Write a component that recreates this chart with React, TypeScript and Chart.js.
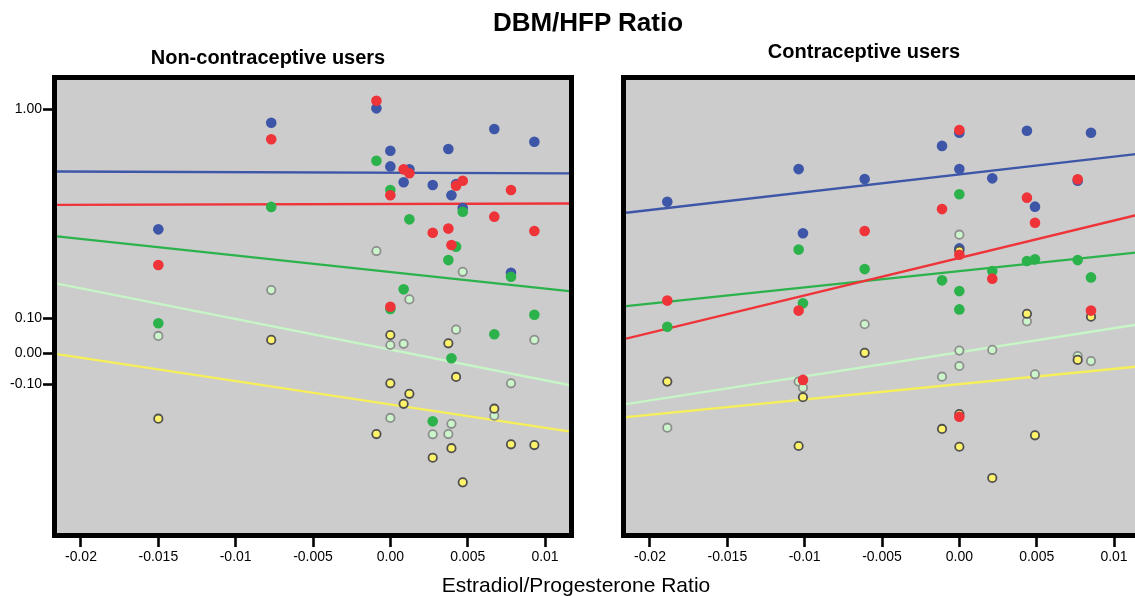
import React, { useEffect, useRef } from 'react';
import { Chart, registerables } from 'chart.js';

Chart.register(...registerables);

const FONT = "'Liberation Sans', Arial, sans-serif";

// X axis (Estradiol/Progesterone Ratio), shared by both panels
const X_MIN = -0.02155;
const X_MAX = 0.01155;
const X_TICKS = [-0.02, -0.015, -0.01, -0.005, 0, 0.005, 0.01];
const X_TICK_LABELS = ['-0.02', '-0.015', '-0.01', '-0.005', '0.00', '0.005', '0.01'];

// Y axis (DBM/HFP Ratio) - axis units, labelled ticks at uneven positions
const Y_MIN = -0.7365;
const Y_MAX = 1.1201;
const Y_TICK_POS = [-0.127, 0.0, 0.1434, 1.0];
const Y_TICK_LABELS = ['-0.10', '0.00', '0.10', '1.00'];

// Non-contraceptive users
const NC_X = [-0.0150, -0.0077, -0.0009, 0.0, 0.0, 0.00086, 0.00123, 0.00274, 0.00375, 0.00395, 0.00425, 0.00468, 0.00672, 0.0078, 0.00931];
const NC_BLUE = [0.508, 0.945, 1.004, 0.83, 0.766, 0.701, 0.754, 0.69, 0.837, 0.648, 0.694, 0.595, 0.919, 0.33, 0.867];
const NC_RED = [0.362, 0.877, 1.035, 0.648, 0.191, 0.754, 0.738, 0.494, 0.511, 0.444, 0.687, 0.707, 0.56, 0.669, 0.501];
const NC_GREEN = [0.123, 0.6, 0.789, 0.669, 0.182, 0.262, 0.549, -0.279, 0.382, -0.02, 0.437, 0.58, 0.078, 0.314, 0.158];
const NC_LIGHT = [0.071, 0.259, 0.419, 0.034, -0.265, 0.039, 0.221, -0.332, -0.331, -0.289, 0.097, 0.334, -0.256, -0.123, 0.055];
const NC_YELLOW = [-0.268, 0.055, -0.331, 0.075, -0.123, -0.207, -0.166, -0.428, 0.041, -0.389, -0.097, -0.529, -0.227, -0.373, -0.376];
// fit lines: value at X_MIN, value at X_MAX
const NC_FIT_BLUE = [0.745, 0.737];
const NC_FIT_RED = [0.608, 0.614];
const NC_FIT_GREEN = [0.479, 0.255];
const NC_FIT_LIGHT = [0.286, -0.13];
const NC_FIT_YELLOW = [-0.003, -0.32];

// Contraceptive users
const C_X = [-0.01888, -0.01039, -0.01011, -0.00612, -0.00112, 0.0, 0.0, 0.0, 0.00213, 0.00437, 0.00489, 0.00765, 0.00851];
const C_BLUE = [0.621, 0.755, 0.492, 0.714, 0.85, 0.904, 0.755, 0.43, 0.717, 0.912, 0.601, 0.707, 0.904];
const C_RED = [0.216, 0.175, -0.109, 0.501, 0.591, 0.915, 0.404, -0.26, 0.306, 0.638, 0.535, 0.713, 0.175];
const C_GREEN = [0.109, 0.425, 0.205, 0.345, 0.299, 0.652, 0.255, 0.18, 0.337, 0.378, 0.385, 0.382, 0.311];
const C_LIGHT = [-0.305, -0.116, -0.141, 0.119, -0.096, 0.486, 0.011, -0.052, 0.014, 0.131, -0.086, -0.011, -0.032];
const C_YELLOW = [-0.116, -0.38, -0.18, 0.002, -0.31, 0.42, -0.249, -0.383, -0.511, 0.162, -0.336, -0.027, 0.15];
const C_FIT_BLUE = [0.576, 0.817];
const C_FIT_RED = [0.06, 0.568];
const C_FIT_GREEN = [0.193, 0.414];
const C_FIT_LIGHT = [-0.208, 0.118];
const C_FIT_YELLOW = [-0.262, -0.054];

const COLORS = {
  blue: '#3D56A8',
  red: '#EE3339',
  green: '#2CB24B',
  light: '#CBF6CB',
  lightLine: '#C6F5C6',
  lightBorder: '#8E8E8E',
  yellow: '#FFF36A',
  yellowLine: '#F6EF58',
  yellowBorder: '#505050',
};

const pts = (xs: number[], ys: number[]) => xs.map((x, i) => ({ x, y: ys[i] }));
const fit = (ys: number[]) => [{ x: X_MIN, y: ys[0] }, { x: X_MAX, y: ys[1] }];

function solid(data: any, color: string) {
  return { type: 'scatter', data, backgroundColor: color, borderWidth: 0, pointRadius: 5.3, showLine: false };
}
function ringed(data: any, fill: string, border: string) {
  return { type: 'scatter', data, backgroundColor: fill, borderColor: border, borderWidth: 1.8, pointRadius: 4.2, showLine: false };
}
function fitLine(data: any, color: string) {
  return { type: 'line', data, borderColor: color, borderWidth: 2.3, pointRadius: 0, fill: false, tension: 0 };
}

function datasets(xs: number[], b: number[], r: number[], g: number[], l: number[], yv: number[], fb: number[], fr: number[], fg: number[], fl: number[], fy: number[]) {
  return [
    solid(pts(xs, r), COLORS.red),
    ringed(pts(xs, yv), COLORS.yellow, COLORS.yellowBorder),
    ringed(pts(xs, l), COLORS.light, COLORS.lightBorder),
    solid(pts(xs, g), COLORS.green),
    solid(pts(xs, b), COLORS.blue),
    fitLine(fit(fb), COLORS.blue),
    fitLine(fit(fr), COLORS.red),
    fitLine(fit(fg), COLORS.green),
    fitLine(fit(fl), COLORS.lightLine),
    fitLine(fit(fy), COLORS.yellowLine),
  ];
}

const panelPlugin = {
  id: 'panelFrame',
  beforeDraw(chart: any) {
    const { ctx, chartArea } = chart;
    ctx.save();
    ctx.fillStyle = '#CCCCCC';
    ctx.fillRect(chartArea.left, chartArea.top, chartArea.right - chartArea.left, chartArea.bottom - chartArea.top);
    ctx.restore();
  },
  afterDraw(chart: any) {
    const { ctx, chartArea } = chart;
    ctx.save();
    ctx.strokeStyle = '#000000';
    ctx.lineWidth = 5;
    ctx.strokeRect(chartArea.left - 2.5, chartArea.top - 2.5, chartArea.right - chartArea.left + 5, chartArea.bottom - chartArea.top + 5);
    ctx.restore();
  },
};

function buildOptions(showY: boolean, padLeft: number, padRight: number) {
  return {
    responsive: false,
    animation: false,
    events: [],
    layout: { padding: { top: 80, left: padLeft, right: padRight, bottom: 0 } },
    plugins: { legend: { display: false }, tooltip: { enabled: false }, title: { display: false } },
    scales: {
      x: {
        type: 'linear',
        min: X_MIN,
        max: X_MAX,
        afterBuildTicks: (s: any) => { s.ticks = X_TICKS.map((v) => ({ value: v })); },
        afterFit: (s: any) => { s.height = 63; },
        border: { display: false },
        grid: { drawOnChartArea: false, drawTicks: true, tickLength: 14, tickWidth: 2.6, tickColor: '#000000' },
        ticks: {
          autoSkip: false,
          maxRotation: 0,
          padding: 2,
          color: '#000000',
          font: { family: FONT, size: 14 },
          callback: (_v: any, i: number) => X_TICK_LABELS[i],
        },
      },
      y: {
        type: 'linear',
        display: showY,
        min: Y_MIN,
        max: Y_MAX,
        afterBuildTicks: (s: any) => { s.ticks = Y_TICK_POS.map((v) => ({ value: v })); },
        afterFit: (s: any) => { s.width = showY ? 57 : 0; },
        border: { display: false },
        grid: { drawOnChartArea: false, drawTicks: true, tickLength: 14, tickWidth: 2.6, tickColor: '#000000' },
        ticks: {
          autoSkip: false,
          padding: 1,
          color: '#000000',
          font: { family: FONT, size: 14 },
          callback: (_v: any, i: number) => Y_TICK_LABELS[i],
        },
      },
    },
  };
}

export default function App() {
  const leftRef = useRef<HTMLCanvasElement>(null);
  const rightRef = useRef<HTMLCanvasElement>(null);

  useEffect(() => {
    const left = new Chart(leftRef.current as HTMLCanvasElement, {
      type: 'scatter',
      data: {
        datasets: datasets(NC_X, NC_BLUE, NC_RED, NC_GREEN, NC_LIGHT, NC_YELLOW, NC_FIT_BLUE, NC_FIT_RED, NC_FIT_GREEN, NC_FIT_LIGHT, NC_FIT_YELLOW) as any,
      },
      options: buildOptions(true, 0, 31) as any,
      plugins: [panelPlugin],
    });
    const right = new Chart(rightRef.current as HTMLCanvasElement, {
      type: 'scatter',
      data: {
        datasets: datasets(C_X, C_BLUE, C_RED, C_GREEN, C_LIGHT, C_YELLOW, C_FIT_BLUE, C_FIT_RED, C_FIT_GREEN, C_FIT_LIGHT, C_FIT_YELLOW) as any,
      },
      options: buildOptions(false, 26, 7) as any,
      plugins: [panelPlugin],
    });
    return () => {
      left.destroy();
      right.destroy();
    };
  }, []);

  const textBase: React.CSSProperties = {
    position: 'absolute',
    fontFamily: FONT,
    color: '#000',
    textAlign: 'center',
    whiteSpace: 'nowrap',
  };

  return (
    <div style={{ position: 'fixed', left: 0, top: 0, width: 1135, height: 596, overflow: 'hidden', background: '#fff' }}>
      <canvas ref={leftRef} width={600} height={596} style={{ position: 'absolute', left: 0, top: 0, width: 600, height: 596 }} />
      <canvas ref={rightRef} width={545} height={596} style={{ position: 'absolute', left: 600, top: 0, width: 545, height: 596 }} />
      <div style={{ ...textBase, left: 288, width: 600, top: 9, fontSize: 26, lineHeight: '26px', fontWeight: 'bold' }}>DBM/HFP Ratio</div>
      <div style={{ ...textBase, left: 68, width: 400, top: 47, fontSize: 20, lineHeight: '20px', fontWeight: 'bold' }}>Non-contraceptive users</div>
      <div style={{ ...textBase, left: 664, width: 400, top: 41, fontSize: 20, lineHeight: '20px', fontWeight: 'bold' }}>Contraceptive users</div>
      <div style={{ ...textBase, left: 276, width: 600, top: 574, fontSize: 21, lineHeight: '21px' }}>Estradiol/Progesterone Ratio</div>
    </div>
  );
}
